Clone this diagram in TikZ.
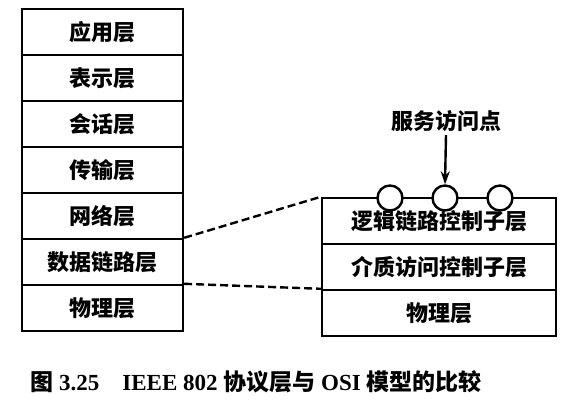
\documentclass[tikz,border=0pt]{standalone}
\usepackage{fontspec}
\usetikzlibrary{arrows.meta}
\setmainfont{Liberation Serif}
\newfontfamily\cjk{Noto Sans CJK SC}
\begin{document}
\begin{tikzpicture}[x=1pt,y=-1pt,
  layer/.style={draw, line width=2.4pt, minimum width=161pt, minimum height=46pt, inner sep=0pt,
    font=\cjk\bfseries\fontsize{22}{26}\selectfont},
  rlayer/.style={layer, minimum width=234pt},
  sapc/.style={draw, circle, line width=2.4pt, fill=white, minimum size=25pt, inner sep=0pt},
  dashcon/.style={line width=2.4pt, dash pattern=on 8pt off 4pt}]
\useasboundingbox (0,0) rectangle (582,420);
% OSI stack
\node[layer] (app) at (102.5,32) {应用层};
\node[layer] (pre) at (102.5,78) {表示层};
\node[layer] (ses) at (102.5,124) {会话层};
\node[layer] (tra) at (102.5,170) {传输层};
\node[layer] (net) at (102.5,216) {网络层};
\node[layer] (dll) at (102.5,262) {数据链路层};
\node[layer] (phy) at (102.5,308) {物理层};
% IEEE 802 stack
\node[rlayer] (llc) at (439,221) {逻辑链路控制子层};
\node[rlayer] (mac) at (439,267) {介质访问控制子层};
\node[rlayer] (phy2) at (439,313) {物理层};
% service access points
\node[sapc] (c1) at (390,198) {};
\node[sapc] (c2) at (445,198) {};
\node[sapc] (c3) at (500,198) {};
\node[font=\cjk\bfseries\fontsize{22}{26}\selectfont] (sap) at (446,121) {服务访问点};
\draw[line width=2.4pt,-{Stealth[length=13pt,width=9pt]}] (sap.south) -- (c2.north);
% connectors
\draw[dashcon] (dll.north east) -- (llc.north west);
\draw[dashcon] (phy.north east) -- (phy2.north west);
% caption
\node[font=\fontsize{23}{27}\selectfont] (cap) at (256,382)
  {{\cjk\bfseries 图}~{\bfseries 3.25}\quad{\bfseries IEEE 802}~{\cjk\bfseries 协议层与}~{\bfseries OSI}~{\cjk\bfseries 模型的比较}};
\end{tikzpicture}
\end{document}
